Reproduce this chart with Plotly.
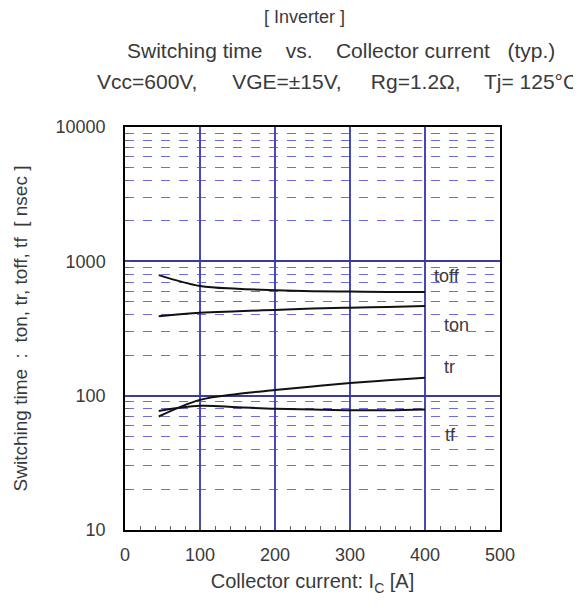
import math
import plotly.graph_objects as go

# Data (Ic in A, times in nsec)
ic = [45, 100, 150, 200, 250, 300, 350, 400]
toff = [790, 655, 625, 610, 600, 595, 590, 590]
ton = [390, 415, 425, 435, 445, 452, 458, 465]
tr = [70, 93, 103, 110, 117, 124, 130, 136]
tf = [77, 84, 82, 80, 79, 78, 78, 79]

series = [("toff", toff), ("ton", ton), ("tr", tr), ("tf", tf)]
# label anchor positions (x in A, y in nsec)
label_pos = {"toff": (409, 780), "ton": (422, 336), "tr": (422, 164), "tf": (424, 51)}

x_ticks = [0, 100, 200, 300, 400, 500]
y_ticks = [10, 100, 1000, 10000]
y_minor = [k * d for d in (10, 100, 1000) for k in range(2, 10)]

FONT = "Liberation Sans, Arial, sans-serif"
TXT = "#3a3a3a"

fig = go.Figure()
for name, vals in series:
    fig.add_trace(go.Scatter(x=ic, y=vals, mode="lines", name=name,
                             line=dict(color="#111111", width=2, shape="spline"),
                             showlegend=False))
    lx, ly = label_pos[name]
    fig.add_annotation(x=lx, y=math.log10(ly), text=name, showarrow=False,
                       xanchor="left", font=dict(family=FONT, size=18, color=TXT))

# page has an 8px body margin; paper is 573x600 so the plot sits where the reference has it
fig.update_layout(
    width=573, height=600,
    margin=dict(l=117, r=81, t=119, b=78),
    paper_bgcolor="white", plot_bgcolor="white",
    font=dict(family=FONT, size=18, color=TXT),
)

fig.update_xaxes(range=[0, 500], tickvals=x_ticks, ticks="inside", ticklen=5,
                 tickcolor="#555", showline=True, linecolor="black", linewidth=1.5, mirror=True,
                 showgrid=True, gridcolor="#4848b8", gridwidth=2, zeroline=False,
                 minor=dict(dtick=20, ticks="inside", ticklen=4, tickcolor="#666", showgrid=False),
                 ticklabelstandoff=8,
                 title=dict(text="Collector current: I<sub>C</sub> [A]", font=dict(size=20, color=TXT), standoff=10),
                 tickfont=dict(size=18, color=TXT))

fig.update_yaxes(type="log", range=[1, 4], tickvals=y_ticks, ticktext=["10", "100", "1000", "10000"],
                 ticks="inside", ticklen=5, tickcolor="#555",
                 showline=True, linecolor="black", linewidth=1.5, mirror=True,
                 showgrid=True, gridcolor="#3a3a9c", gridwidth=1.5, zeroline=False,
                 minor=dict(tickvals=y_minor, ticks="inside", ticklen=4, tickcolor="#666", showgrid=True,
                            gridcolor="#6c6ce6", griddash="dash", gridwidth=1),
                 ticklabelstandoff=14,
                 title=dict(text="Switching time  :  ton, tr, toff, tf  [ nsec ]", font=dict(size=19, color=TXT), standoff=23),
                 tickfont=dict(size=18, color=TXT))

NB = "\u00a0"
titles = [
    ("[ Inverter ]", 304, 17, 18),
    ("Switching time" + NB * 4 + "vs." + NB * 4 + "Collector current" + NB * 3 + "(typ.)", 341, 50, 21),
    ("Vcc=600V," + NB * 6 + "VGE=±15V," + NB * 5 + "Rg=1.2Ω," + NB * 4 + "Tj= 125°C", 337, 82, 21),
]
for t, xp, yp, fs in titles:
    fig.add_annotation(text=t, xref="paper", yref="paper",
                       x=(xp - 125) / 375, y=1 + (127 - yp) / 403, xanchor="center", yanchor="middle",
                       showarrow=False, font=dict(family=FONT, size=fs, color=TXT))

fig.write_html("out.html")
